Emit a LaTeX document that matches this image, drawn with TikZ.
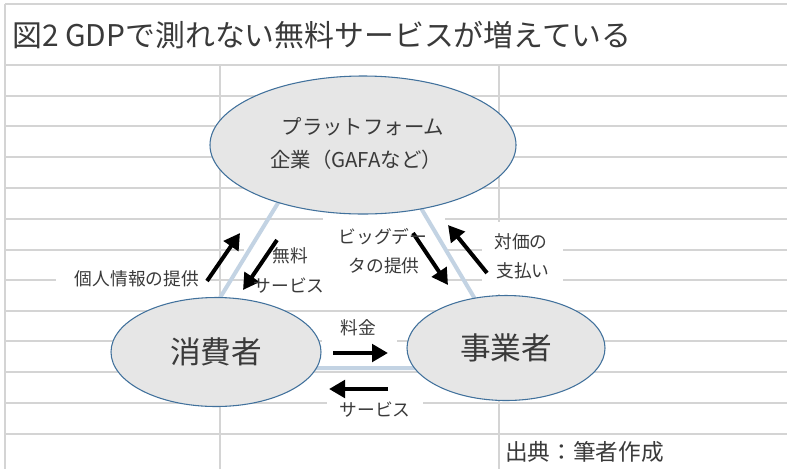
\documentclass[tikz,border=0pt]{standalone}
\usepackage{fontspec}
\setmainfont{Noto Sans CJK JP}
\usetikzlibrary{shapes.geometric,arrows.meta}
\definecolor{gridc}{HTML}{D4D4D4}
\definecolor{tric}{HTML}{C3D3E3}
\definecolor{ellf}{HTML}{E6E6E6}
\definecolor{elld}{HTML}{41719C}
\definecolor{txt}{HTML}{3A3A3A}
\tikzset{
  gridline/.style={draw=gridc,line width=1.6pt},
  wbox/.style={fill=white,draw=none},
  triline/.style={draw=tric,line width=3pt},
  party/.style={ellipse,draw=elld,line width=0.8pt,fill=ellf,inner sep=0pt,text=txt},
  flow/.style={draw=black,line width=3pt,-{Triangle[length=12pt,width=13pt]}},
  lbl/.style={text=txt,font=\fontsize{13.3}{16}\selectfont,inner sep=0pt,align=center},
}
\begin{document}
\begin{tikzpicture}[x=0.75pt,y=-0.75pt]
\useasboundingbox (0,0) rectangle (787,469);
\fill[white] (0,0) rectangle (787,469);
% grid
\draw[gridline] (5,4) -- (787,4);
\draw[gridline] (5,4) -- (5,469);
\foreach \yy in {65,96,126,157,188,219,250,280,311,341,372,403,434}
  \draw[gridline] (5,\yy) -- (787,\yy);
\draw[gridline] (220,65) -- (220,469);
\draw[gridline] (499,65) -- (499,469);
% white label boxes
\fill[wbox] (56,255) rectangle (210,303);
\fill[wbox] (244,236) rectangle (338,308);
\fill[wbox] (323,216) rectangle (445,300);
\fill[wbox] (482,222) rectangle (563,294);
\fill[wbox] (322,314) rectangle (397,347);
\fill[wbox] (327,380) rectangle (423,430);
% triangle
\coordinate (tA) at (349,87);
\coordinate (tB) at (177,368);
\coordinate (tC) at (516,368);
\draw[triline] (tA) -- (tB) -- (tC) -- cycle;
% parties
\node[party,minimum width=229.5pt,minimum height=103.5pt] (plat) at (363,145) {};
\node[text=txt,font=\fontsize{15.3}{18}\selectfont] (platA) at (363,127) {プラットフォーム};
\node[text=txt,font=\fontsize{15.3}{18}\selectfont] (platB) at (356,160) {企業（GAFAなど）};
\node[party,minimum width=157.5pt,minimum height=81.75pt,font=\fontsize{23}{26}\selectfont] (cons) at (216,352) {消費者};
\node[party,minimum width=148.5pt,minimum height=78.75pt,font=\fontsize{23}{26}\selectfont] (biz) at (506,348) {事業者};
% arrows
\coordinate (a1s) at (207,281); \coordinate (a1e) at (240,233);
\coordinate (a2s) at (277,240); \coordinate (a2e) at (243,290);
\coordinate (a3s) at (413,233); \coordinate (a3e) at (448,285);
\coordinate (a4s) at (487,273); \coordinate (a4e) at (448,225);
\coordinate (a5s) at (333,353); \coordinate (a5e) at (388,353);
\coordinate (a6s) at (388,389); \coordinate (a6e) at (329,389);
\draw[flow] (a1s) -- (a1e);
\draw[flow] (a2s) -- (a2e);
\draw[flow] (a3s) -- (a3e);
\draw[flow] (a4s) -- (a4e);
\draw[flow] (a5s) -- (a5e);
\draw[flow] (a6s) -- (a6e);
% labels
\node[lbl] (l1) at (137,279) {個人情報の提供};
\node[lbl] (l2a) at (290,256) {無料};
\node[lbl] (l2b) at (289,286) {サービス};
\node[lbl] (l3a) at (383,237) {ビッグデー};
\node[lbl] (l3b) at (384,266) {タの提供};
\node[lbl] (l4a) at (521,242) {対価の};
\node[lbl] (l4b) at (523,271) {支払い};
\node[lbl] (l5) at (358,328) {料金};
\node[lbl] (l6) at (375,410) {サービス};
% title and source
\node[anchor=west,text=txt,font=\fontsize{22.4}{26}\selectfont,inner sep=0pt] (title) at (12,35) {図2 GDPで測れない無料サービスが増えている};
\node[anchor=west,text=txt,font=\fontsize{17}{20}\selectfont,inner sep=0pt] (src) at (505,452) {出典：筆者作成};
\end{tikzpicture}
\end{document}
